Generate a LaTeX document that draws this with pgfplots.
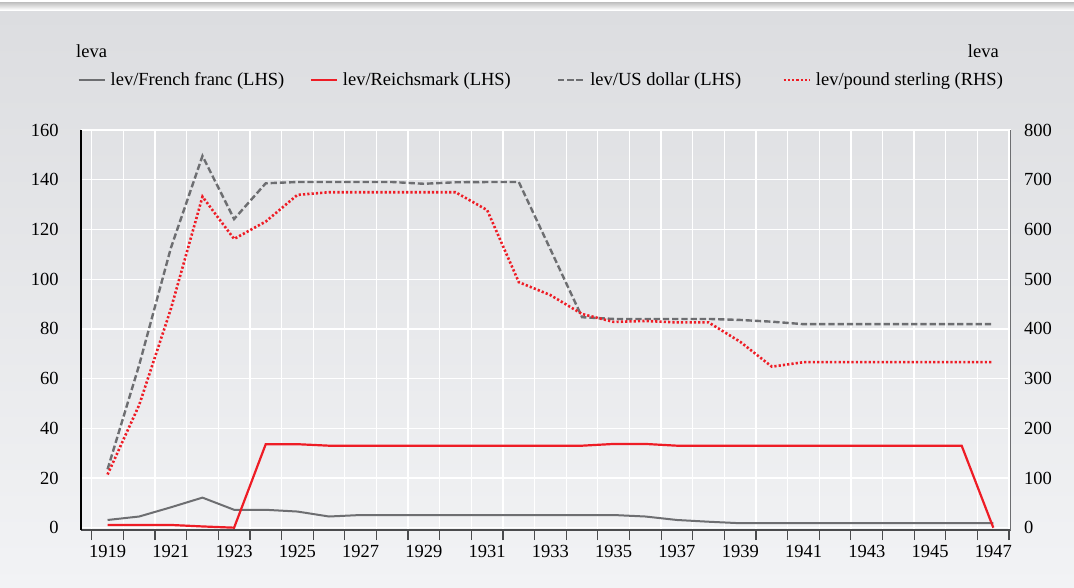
\documentclass[border=0pt]{standalone}
\usepackage{pgfplots}
\pgfplotsset{compat=1.18}
\usepackage{fontspec}
\setmainfont{Liberation Serif}
\definecolor{cgray}{HTML}{6D6E71}
\definecolor{cred}{HTML}{EE1C25}
\definecolor{bgtop}{HTML}{DCDDE0}
\definecolor{bgbot}{HTML}{F2F3F5}
\definecolor{axdark}{HTML}{4A4B4D}
\newcommand{\ff}{\fontsize{18.5}{22}\selectfont}
\pgfplotsset{
  common/.style={
    at={(81pt,57pt)}, anchor=south west,
    scale only axis, width=929.7pt, height=399.9pt,
    xmin=1918.16, xmax=1947.55,
    every tick label/.append style={font=\ff},
    /pgf/number format/assume math mode=true,
    /pgf/number format/1000 sep={},
  }
}
\begin{document}
\ff
\begin{tikzpicture}
\shade[top color=bgtop, bottom color=bgbot] (0pt,0pt) rectangle (1074pt,576pt);
\fill[white] (0pt,576pt) rectangle (1074pt,587pt);
\shade[top color=gray!45, bottom color=white] (0pt,584pt) rectangle (1074pt,577pt);
\node[anchor=base west, inner sep=0pt, font=\ff] at (76pt,529.7pt) {leva};
\node[anchor=base east, inner sep=0pt, font=\ff] at (999pt,529.7pt) {leva};

\begin{axis}[common,
  ymin=-0.93, ymax=160,
  axis x line*=bottom, axis y line*=left,
  x axis line style={-, draw=axdark, line width=1.2pt},
  y axis line style={-, draw=black, line width=1.4pt},
  xtick={1918.5,1919.5,...,1947.5},
  xticklabels={},
  extra x ticks={1919,1921,...,1947},
  extra x tick labels={1919,1921,1923,1925,1927,1929,1931,1933,1935,1937,1939,1941,1943,1945,1947},
  extra x tick style={grid=none, major tick length=0pt, xtick style={draw=none}},
  ytick={0,20,...,160},
  tick align=outside,
  major tick length=10pt,
  xtick style={draw=axdark, line width=1.2pt},
  ytick style={draw=none},
  yticklabel style={xshift=-6pt},
  xticklabel style={yshift=-9pt},
  grid=major,
  major grid style={white, line width=1.3pt},
  legend columns=4,
  legend style={at={(axis description cs:0,1)}, anchor=west, xshift=-3.3pt, yshift=50pt,
    draw=none, fill=none, font=\ff, inner sep=0pt, outer sep=0pt,
    nodes={inner sep=0pt},
    /tikz/every odd column/.append style={column sep=5pt},
    /tikz/every even column/.append style={column sep=0pt}},
  legend image code/.code={\draw[#1] (0pt,0pt) -- (26pt,0pt);},
]
\draw[axdark, line width=1.2pt] (rel axis cs:0,0) -- ++(0pt,-10pt);
\addplot[cgray, line width=2pt] coordinates {
(1919,3.1) (1920,4.5) (1921,8.2) (1922,12.1) (1923,7.2) (1924,7.2) (1925,6.5)
(1926,4.5) (1927,5.1) (1928,5.1) (1929,5.1) (1930,5.1) (1931,5.1) (1932,5.1)
(1933,5.1) (1934,5.1) (1935,5.1) (1936,4.5) (1937,3.1) (1938,2.4) (1939,1.8)
(1940,1.8) (1941,1.8) (1942,1.8) (1943,1.8) (1944,1.8) (1945,1.8) (1946,1.8) (1947,1.8)};
\addlegendentry{\makebox[199pt][l]{lev/French franc (LHS)}}
\addplot[cred, line width=2.2pt] coordinates {
(1919,1.1) (1920,1.1) (1921,1.1) (1922,0.5) (1923,0) (1924,33.6) (1925,33.6)
(1926,33.0) (1927,33.0) (1928,33.0) (1929,33.0) (1930,33.0) (1931,33.0) (1932,33.0)
(1933,33.0) (1934,33.0) (1935,33.7) (1936,33.7) (1937,33.0) (1938,33.0) (1939,33.0)
(1940,33.0) (1941,33.0) (1942,33.0) (1943,33.0) (1944,33.0) (1945,33.0) (1946,33.0) (1947,0)};
\addlegendentry{\makebox[214pt][l]{lev/Reichsmark (LHS)}}
\addplot[cgray, line width=2.4pt, dash pattern=on 6.3pt off 2.9pt] coordinates {
(1919,23.5) (1920,65.5) (1921,112.5) (1922,149.6) (1923,124.2) (1924,138.6) (1925,139.1)
(1926,139.1) (1927,139.1) (1928,139.1) (1929,138.4) (1930,139.0) (1931,139.1) (1932,139.1)
(1933,112) (1934,84.7) (1935,84.0) (1936,84.0) (1937,84.0) (1938,84.0) (1939,83.6)
(1940,82.9) (1941,81.9) (1942,81.9) (1943,81.9) (1944,81.9) (1945,81.9) (1946,81.9) (1947,81.9)};
\addlegendentry{\makebox[192pt][l]{lev/US dollar (LHS)}}
\addlegendimage{cred, line width=2.6pt, dash pattern=on 2.2pt off 2.1pt}
\addlegendentry{lev/pound sterling (RHS)}
\end{axis}

\begin{axis}[common,
  ymin=-4.65, ymax=800,
  axis x line=none, axis y line*=right,
  y axis line style={-, draw=cgray, line width=1.4pt},
  ytick={0,100,...,800},
  ytick style={draw=none},
  yticklabel style={xshift=7pt},
]
\draw[cgray, line width=1.4pt] (rel axis cs:1,0) -- ++(0pt,-11.5pt);
\addplot[cred, line width=2.6pt, dash pattern=on 2.2pt off 2.1pt] coordinates {
(1919,107) (1920,247) (1921,440) (1922,666) (1923,581) (1924,616) (1925,669.6)
(1926,675) (1927,675) (1928,675) (1929,675) (1930,675) (1931,639) (1932,494)
(1933,468) (1934,430) (1935,414) (1936,416) (1937,413) (1938,413) (1939,374)
(1940,324) (1941,333) (1942,333) (1943,333) (1944,333) (1945,333) (1946,333) (1947,333)};
\end{axis}
\end{tikzpicture}
\end{document}
